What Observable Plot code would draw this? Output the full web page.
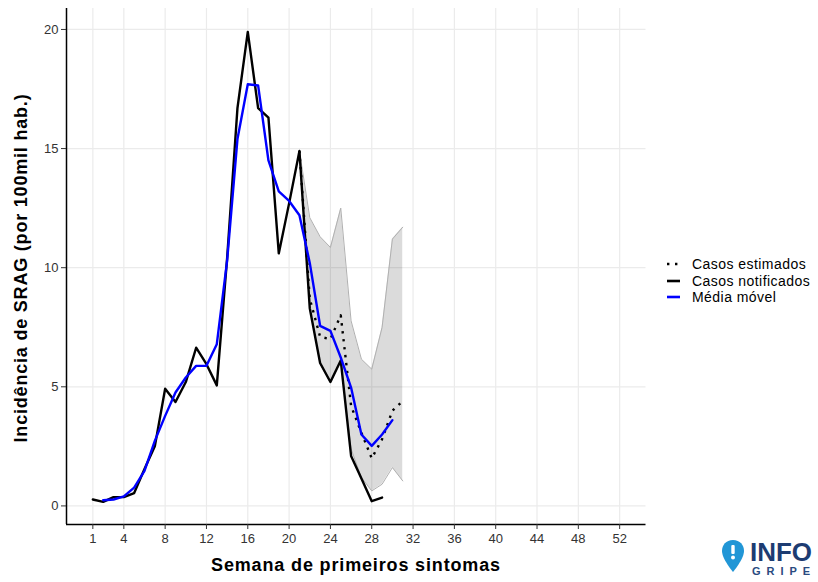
<!DOCTYPE html>
<html>
<head>
<meta charset="utf-8">
<script src="https://cdn.jsdelivr.net/npm/d3@7"></script>
<script src="https://cdn.jsdelivr.net/npm/@observablehq/plot@0.6"></script>
<style>
  html, body { margin: 0; padding: 0; background: #fff; }
  #wrap { position: relative; width: 818px; height: 582px; font-family: "Liberation Sans", Arial, Helvetica, sans-serif; overflow: hidden; }
  #chart { position: absolute; left: 0; top: 0; }
  .xtitle { position: absolute; left: 66px; width: 580px; top: 555px; text-align: center; font-weight: bold; font-size: 18px; letter-spacing: 0.85px; color: #000; }
  .ytitle { position: absolute; left: 21px; top: 268px; transform: translate(-50%, -50%) rotate(-90deg); white-space: nowrap; font-weight: bold; font-size: 18px; letter-spacing: 0.8px; color: #000; }
  .legend { position: absolute; left: 666px; top: 256px; font-size: 14px; letter-spacing: 0.45px; color: #000; }
  .legend .row { display: flex; align-items: center; height: 16.5px; }
  .legend svg { margin-right: 12px; }
  .logo { position: absolute; left: 721px; top: 538px; width: 95px; height: 42px; overflow: visible; }
</style>
</head>
<body>
<div id="wrap">
  <div id="chart"></div>
  <div class="ytitle">Incidência de SRAG (por 100mil hab.)</div>
  <div class="xtitle">Semana de primeiros sintomas</div>
  <div class="legend" id="legend"></div>
  <svg class="logo" viewBox="0 0 95 42">
    <path d="M12 2 C5 2 1 7 1 13 C1 21 12 34 12 34 C12 34 23 21 23 13 C23 7 19 2 12 2 Z" fill="#2196d6"/>
    <rect x="10.3" y="7" width="3.4" height="9" rx="1" fill="#fff"/>
    <circle cx="12" cy="19.5" r="2" fill="#fff"/>
    <text x="29" y="22.5" font-family="Liberation Sans, Arial, sans-serif" font-weight="bold" font-size="25" fill="#1d3c72" textLength="62" lengthAdjust="spacingAndGlyphs">INFO</text>
    <text x="31" y="36.5" font-family="Liberation Sans, Arial, sans-serif" font-weight="bold" font-size="11" fill="#2a4a80" textLength="58" lengthAdjust="spacing">GRIPE</text>
  </svg>
</div>
<script>
// ---- data ----
const weeksNotified = d3.range(1, 30);           // weeks 1..29
const casosNotificados = [0.27, 0.17, 0.37, 0.37, 0.54, 1.55, 2.5, 4.92, 4.36, 5.2, 6.64, 5.95, 5.06, 10.4, 16.7, 19.9, 16.7, 16.3, 10.6, 12.7, 14.9, 8.3, 6.0, 5.2, 6.1, 2.1, 1.15, 0.2, 0.35];

const weeksMedia = d3.range(2, 31);              // weeks 2..30
const mediaMovel = [0.24, 0.27, 0.4, 0.77, 1.47, 2.73, 3.78, 4.76, 5.39, 5.88, 5.88, 6.79, 10.3, 15.4, 17.7, 17.65, 14.5, 13.2, 12.8, 12.2, 10.2, 7.56, 7.35, 6.23, 4.97, 3.0, 2.52, 3.0, 3.6];

const weeksEstimated = d3.range(21, 32);         // weeks 21..31
const casosEstimados = [14.9, 8.7, 7.1, 7.0, 8.0, 4.2, 3.07, 2.0, 2.8, 4.0, 4.4];
const icUpper = [14.9, 12.1, 11.3, 10.85, 12.5, 7.77, 6.16, 5.74, 7.49, 11.2, 11.7];
const icLower = [14.9, 8.33, 5.96, 5.18, 6.09, 2.39, 1.19, 0.63, 0.91, 1.61, 1.05];

const xTicks = [1, 4, 8, 12, 16, 20, 24, 28, 32, 36, 40, 44, 48, 52];
const yTicks = [0, 5, 10, 15, 20];
const xDomain = [-1.55, 54.55];
const yDomain = [-0.78, 20.88];

const seriesNames = ["Casos estimados", "Casos notificados", "Média móvel"];

// ---- tables ----
const notif = weeksNotified.map((w, i) => ({week: w, value: casosNotificados[i]}));
const media = weeksMedia.map((w, i) => ({week: w, value: mediaMovel[i]}));
const est = weeksEstimated.map((w, i) => ({week: w, value: casosEstimados[i], lo: icLower[i], hi: icUpper[i]}));

const dots = "2.4,5.6";

const chart = Plot.plot({
  width: 818,
  height: 582,
  marginLeft: 66,
  marginRight: 172.5,
  marginTop: 8,
  marginBottom: 58,
  style: {fontFamily: "Liberation Sans, Arial, Helvetica, sans-serif", color: "#333", background: "#fff"},
  x: {domain: xDomain},
  y: {domain: yDomain},
  marks: [
    Plot.gridX(xTicks, {stroke: "#ebebeb", strokeOpacity: 1, strokeWidth: 1.2}),
    Plot.gridY(yTicks, {stroke: "#ebebeb", strokeOpacity: 1, strokeWidth: 1.2}),
    Plot.areaY(est, {x: "week", y1: "lo", y2: "hi", fill: "#000", fillOpacity: 0.14}),
    Plot.lineY(est, {x: "week", y: "hi", stroke: "#b0b0b0", strokeWidth: 1}),
    Plot.lineY(est, {x: "week", y: "lo", stroke: "#b0b0b0", strokeWidth: 1}),
    Plot.lineY(notif, {x: "week", y: "value", stroke: "#000", strokeWidth: 2.4}),
    Plot.lineY(est, {x: "week", y: "value", stroke: "#000", strokeWidth: 2.4, strokeDasharray: dots, strokeLinecap: "butt"}),
    Plot.lineY(media, {x: "week", y: "value", stroke: "#0000ff", strokeWidth: 2.4}),
    Plot.ruleX([xDomain[0]], {stroke: "#000", strokeWidth: 1.5}),
    Plot.ruleY([yDomain[0]], {stroke: "#000", strokeWidth: 1.5}),
    Plot.axisX(xTicks, {label: null, tickSize: 5, tickPadding: 4, fontSize: 13, stroke: "#333", fill: "#333"}),
    Plot.axisY(yTicks, {label: null, tickSize: 5, tickPadding: 3, fontSize: 13, stroke: "#333", fill: "#333"})
  ]
});
document.getElementById("chart").appendChild(chart);

// ---- legend ----
const legend = document.getElementById("legend");
const keyStyles = [
  {stroke: "#000", dash: dots},
  {stroke: "#000", dash: null},
  {stroke: "#0000ff", dash: null}
];
seriesNames.forEach((name, i) => {
  const row = document.createElement("div");
  row.className = "row";
  const k = keyStyles[i];
  row.innerHTML = `<svg width="14" height="8"><line x1="1" x2="14" y1="4" y2="4" stroke="${k.stroke}" stroke-width="2.6" stroke-linecap="butt" ${k.dash ? `stroke-dasharray="${k.dash}"` : ""}/></svg><span>${name}</span>`;
  legend.appendChild(row);
});
</script>
</body>
</html>
